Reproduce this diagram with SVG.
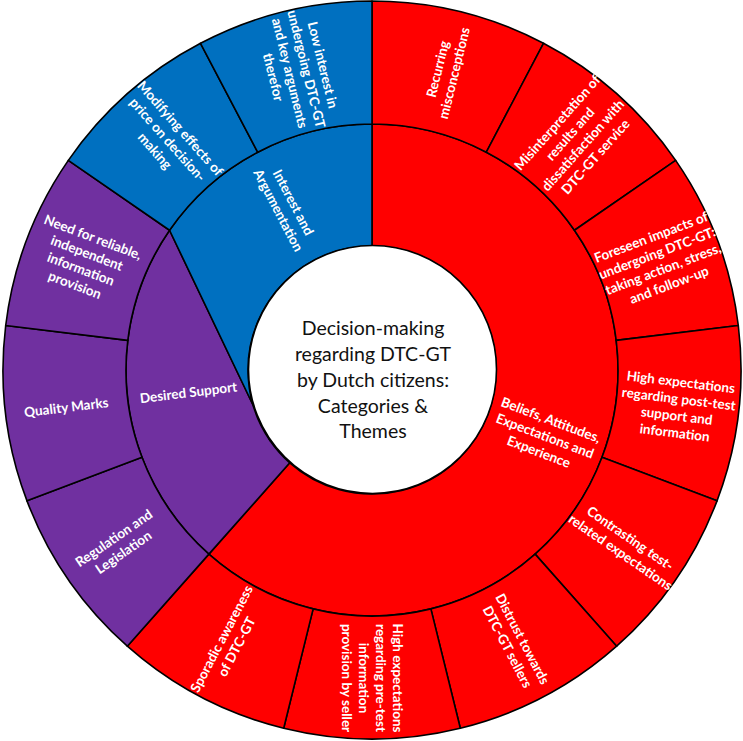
<svg xmlns="http://www.w3.org/2000/svg" width="743" height="741" viewBox="0 0 743 741">
<style>
.seg{stroke:#000;stroke-width:1.6;stroke-linejoin:round}
.red{fill:#FF0000}.blue{fill:#0070C0}.purple{fill:#7030A0}
.lbl{font-family:Lato,"Liberation Sans",sans-serif;font-weight:bold;font-size:13.5px;fill:#fff;text-anchor:middle}
.ctr{font-family:Lato,"Liberation Sans",sans-serif;font-size:19.5px;fill:#111;text-anchor:middle}
</style>
<rect width="743" height="741" fill="#fff"/>
<g id="connectors"></g>
<!-- categories -->
<g id="cat-beliefs">
<path class="seg red" d="M372 124 A246 246 0 1 1 208.87 554.13 L289.77 462.82 A124 124 0 1 0 372 246 Z"/>
<g transform="translate(545,435.6) rotate(20.77)"><text class="lbl"><tspan x="0" y="-12">Beliefs, Attitudes,</tspan><tspan x="0" y="5">Expectations and</tspan><tspan x="0" y="22">Experience</tspan></text></g>
</g>
<g id="cat-support">
<path class="seg purple" d="M208.87 554.13 A246 246 0 0 1 169.55 230.26 L269.95 440.44 A124 124 0 0 0 289.77 462.82 Z"/>
<g transform="translate(188.35,392.3) rotate(-6.92)"><text class="lbl"><tspan x="0" y="5">Desired Support</tspan></text></g>
</g>
<g id="cat-interest">
<path class="seg blue" d="M169.55 230.26 A246 246 0 0 1 372 124 L372 246 A124 124 0 0 0 269.95 440.44 Z"/>
<g transform="translate(286,206.2) rotate(62.31)"><text class="lbl"><tspan x="0" y="-3.5">Interest and</tspan><tspan x="0" y="13.5">Argumentation</tspan></text></g>
</g>
<!-- themes -->
<g id="t1">
<path class="seg red" d="M372 1 A369 369 0 0 1 543.48 43.27 L486.32 152.18 A246 246 0 0 0 372 124 Z"/>
<g transform="translate(445.7,71) rotate(-76.15)"><text class="lbl"><tspan x="0" y="-3.5">Recurring</tspan><tspan x="0" y="13.5">misconceptions</tspan></text></g>
</g>
<g id="t2">
<path class="seg red" d="M543.48 43.27 A369 369 0 0 1 675.68 160.39 L574.45 230.26 A246 246 0 0 0 486.32 152.18 Z"/>
<g transform="translate(576.2,139.5) rotate(-48.46)"><text class="lbl"><tspan x="0" y="-20.5">Misinterpretation of</tspan><tspan x="0" y="-3.5">results and</tspan><tspan x="0" y="13.5">dissatisfaction with</tspan><tspan x="0" y="30.5">DTC-GT service</tspan></text></g>
</g>
<g id="t3">
<path class="seg red" d="M675.68 160.39 A369 369 0 0 1 738.31 325.52 L616.21 340.35 A246 246 0 0 0 574.45 230.26 Z"/>
<g transform="translate(660,260.8) rotate(-20.77)"><text class="lbl"><tspan x="0" y="-20.5">Foreseen impacts of</tspan><tspan x="0" y="-3.5">undergoing DTC-GT:</tspan><tspan x="0" y="13.5">taking action, stress,</tspan><tspan x="0" y="30.5">and follow-up</tspan></text></g>
</g>
<g id="t4">
<path class="seg red" d="M738.31 325.52 A369 369 0 0 1 717.02 500.85 L602.01 457.23 A246 246 0 0 0 616.21 340.35 Z"/>
<g transform="translate(677.8,407.1) rotate(6.92)"><text class="lbl"><tspan x="0" y="-20.5">High expectations</tspan><tspan x="0" y="-3.5">regarding post-test</tspan><tspan x="0" y="13.5">support and</tspan><tspan x="0" y="30.5">information</tspan></text></g>
</g>
<g id="t5">
<path class="seg red" d="M717.02 500.85 A369 369 0 0 1 616.69 646.2 L535.13 554.13 A246 246 0 0 0 602.01 457.23 Z"/>
<g transform="translate(625.5,545) rotate(34.62)"><text class="lbl"><tspan x="0" y="-3.5">Contrasting test-</tspan><tspan x="0" y="13.5">related expectations</tspan></text></g>
</g>
<g id="t6">
<path class="seg red" d="M616.69 646.2 A369 369 0 0 1 460.31 728.28 L430.87 608.85 A246 246 0 0 0 535.13 554.13 Z"/>
<g transform="translate(515.1,642.7) rotate(62.31)"><text class="lbl"><tspan x="0" y="-3.5">Distrust towards</tspan><tspan x="0" y="13.5">DTC-GT sellers</tspan></text></g>
</g>
<g id="t7">
<path class="seg red" d="M460.31 728.28 A369 369 0 0 1 283.69 728.28 L313.13 608.85 A246 246 0 0 0 430.87 608.85 Z"/>
<g transform="translate(372,678) rotate(90)"><text class="lbl"><tspan x="0" y="-20.5">High expectations</tspan><tspan x="0" y="-3.5">regarding pre-test</tspan><tspan x="0" y="13.5">information</tspan><tspan x="0" y="30.5">provision by seller</tspan></text></g>
</g>
<g id="t8">
<path class="seg red" d="M283.69 728.28 A369 369 0 0 1 127.31 646.2 L208.87 554.13 A246 246 0 0 0 313.13 608.85 Z"/>
<g transform="translate(228.9,642.7) rotate(-62.31)"><text class="lbl"><tspan x="0" y="-3.5">Sporadic awareness</tspan><tspan x="0" y="13.5">of DTC-GT</tspan></text></g>
</g>
<g id="t9">
<path class="seg purple" d="M127.31 646.2 A369 369 0 0 1 26.98 500.85 L141.99 457.23 A246 246 0 0 0 208.87 554.13 Z"/>
<g transform="translate(118.5,545) rotate(-34.62)"><text class="lbl"><tspan x="0" y="-3.5">Regulation and</tspan><tspan x="0" y="13.5">Legislation</tspan></text></g>
</g>
<g id="t10">
<path class="seg purple" d="M26.98 500.85 A369 369 0 0 1 5.69 325.52 L127.79 340.35 A246 246 0 0 0 141.99 457.23 Z"/>
<g transform="translate(66.3,407.1) rotate(-6.92)"><text class="lbl"><tspan x="0" y="5">Quality Marks</tspan></text></g>
</g>
<g id="t11">
<path class="seg purple" d="M5.69 325.52 A369 369 0 0 1 68.32 160.39 L169.55 230.26 A246 246 0 0 0 127.79 340.35 Z"/>
<g transform="translate(84,260.8) rotate(20.77)"><text class="lbl"><tspan x="0" y="-20.5">Need for reliable,</tspan><tspan x="0" y="-3.5">independent</tspan><tspan x="0" y="13.5">information</tspan><tspan x="0" y="30.5">provision</tspan></text></g>
</g>
<g id="t12">
<path class="seg blue" d="M68.32 160.39 A369 369 0 0 1 200.52 43.27 L257.68 152.18 A246 246 0 0 0 169.55 230.26 Z"/>
<g transform="translate(167.8,139.5) rotate(48.46)"><text class="lbl"><tspan x="0" y="-12">Modifying effects of</tspan><tspan x="0" y="5">price on decision-</tspan><tspan x="0" y="22">making</tspan></text></g>
</g>
<g id="t13">
<path class="seg blue" d="M200.52 43.27 A369 369 0 0 1 372 1 L372 124 A246 246 0 0 0 257.68 152.18 Z"/>
<g transform="translate(298.3,71) rotate(76.15)"><text class="lbl"><tspan x="0" y="-20.5">Low interest in</tspan><tspan x="0" y="-3.5">undergoing DTC-GT</tspan><tspan x="0" y="13.5">and key arguments</tspan><tspan x="0" y="30.5">therefor</tspan></text></g>
</g>
<g id="center">
<circle cx="372.5" cy="369.5" r="124" fill="#fff" stroke="#000" stroke-width="1.6"/>
<text class="ctr"><tspan x="373" y="335">Decision-making</tspan><tspan x="373" y="361">regarding DTC-GT</tspan><tspan x="373" y="387">by Dutch citizens:</tspan><tspan x="373" y="412.5">Categories &amp;</tspan><tspan x="373" y="438">Themes</tspan></text>
</g>
</svg>
